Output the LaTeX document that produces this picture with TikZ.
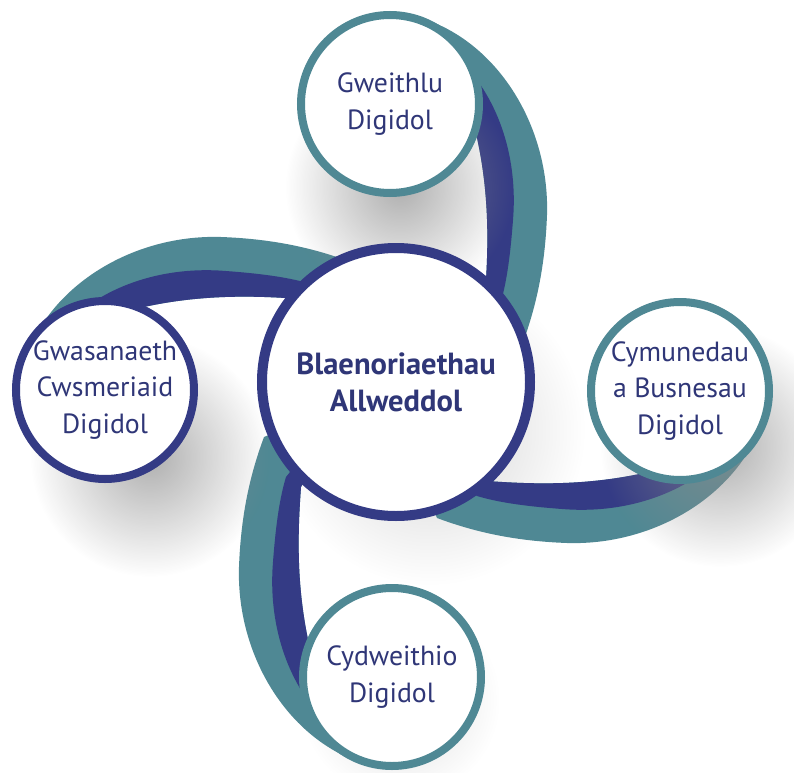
\documentclass[tikz,border=0pt]{standalone}
\usepackage{fontspec}
\setmainfont{PT Sans}
\usepackage{xcolor}
\usepackage{tikz}
\usetikzlibrary{fadings}
\definecolor{navy}{HTML}{343B85}
\definecolor{sea}{HTML}{4F8894}
\definecolor{ink}{HTML}{2F3677}
\tikzfading[name=shfade, inner color=transparent!30, outer color=transparent!100]
\tikzset{
  hub/.style={circle, draw=navy, line width=0.2cm, fill=white, minimum size=5.36cm,
    inner sep=-4pt, align=center, text=ink, font=\bfseries\fontsize{17.4}{21}\selectfont},
  sat/.style={circle, line width=0.16cm, fill=white, minimum size=3.56cm,
    inner sep=-6pt, align=center, text=ink, font=\fontsize{15.8}{20.8}\selectfont},
  bandsea/.style={fill=sea},
  bandnavy/.style={fill=navy},
  softshade/.style={fill=black!45, path fading=shfade}
}

\begin{document}
\begin{tikzpicture}
  \useasboundingbox (-7.92,7.64) rectangle (7.96,-7.8);

  % soft shadow under the hub
  \fill[softshade, fill=black!25] (0.68,-0.96) circle (3.1);
  \fill[softshade, fill=black!20] (0.08,-6.36) circle (2.0);

  % swirl arms (top one, turned round the hub)
  \foreach \ang/\sx/\sy in {0/0/0, -90/0.08/-0.2, 180/-0.12/-0.36, 90/-0.16/-0.12}{
    \begin{scope}[shift={(\sx,\sy)}, rotate=\ang]
      \fill[bandsea] (-0.12,6.44) -- (0.18,7.36)
        .. controls (1.88,7.04) and (3.08,5.24) .. (3.02,3.34)
        .. controls (2.98,2.24) and (2.78,1.44) .. (2.52,0.74)
        -- (0.88,0.04) -- (1.78,1.74)
        .. controls (1.86,2.84) and (1.88,4.04) .. (1.48,5.44) -- cycle;
      \fill[bandnavy] (0.08,6.04) -- (1.28,6.44)
        .. controls (2.08,5.64) and (2.44,4.44) .. (2.34,3.24)
        .. controls (2.28,2.44) and (2.20,1.94) .. (2.08,1.54)
        -- (0.88,0.04) -- (1.78,1.74)
        .. controls (1.86,2.84) and (1.88,4.04) .. (1.48,5.44) -- cycle;
    \end{scope}
  }

  % soft shadows of the outer circles
  \fill[softshade] (0.08,3.9) circle (2.3);
  \fill[softshade] (-4.92,-1.5) circle (2.4);
  \fill[softshade] (6.48,-1.3) circle (2.4);

  \node[hub] (hub) at (0,0) {Blaenoriaethau\\Allweddol};
  \node[sat, draw=sea] (gweithlu) at (-0.12,5.56) {Gweithlu\\Digidol};
  \node[sat, draw=sea] (cymunedau) at (5.68,-0.18) {Cymunedau\\a Busnesau\\Digidol};
  \node[sat, draw=sea] (cydweithio) at (-0.08,-5.9) {Cydweithio\\Digidol};
  \node[sat, draw=navy] (gwasanaeth) at (-5.82,-0.16) {Gwasanaeth\\Cwsmeriaid\\Digidol};
\end{tikzpicture}
\end{document}
